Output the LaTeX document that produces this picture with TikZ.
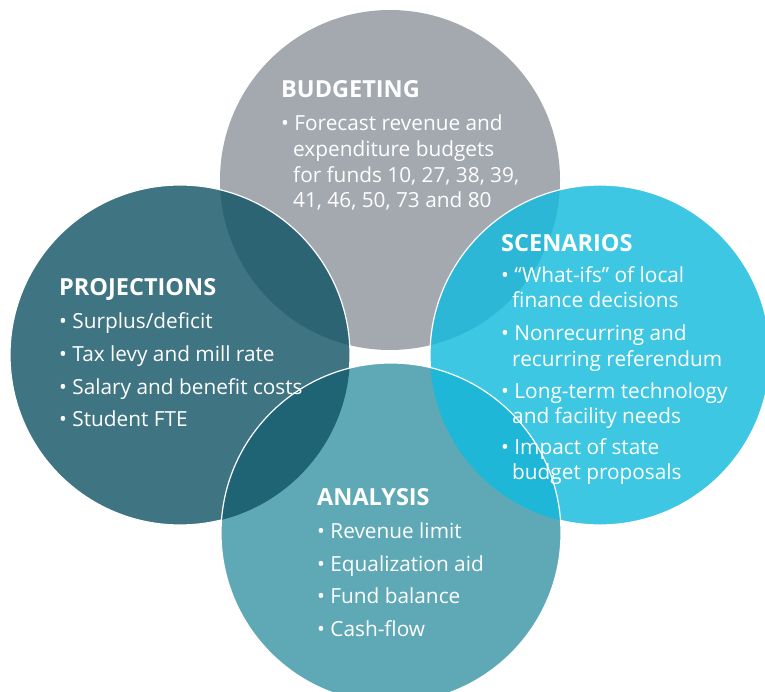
\documentclass[tikz,border=0pt]{standalone}
\usepackage{fontspec}
\setmainfont{Open Sans}
\definecolor{cbud}{HTML}{A4A9B0}
\definecolor{cproj}{HTML}{3F7482}
\definecolor{cprojbud}{HTML}{2D6474}
\definecolor{cscen}{HTML}{3EC7E3}
\definecolor{cscenbud}{HTML}{2BB7D5}
\definecolor{cana}{HTML}{5FA9B7}
\definecolor{canaproj}{HTML}{1F6475}
\definecolor{canascen}{HTML}{1FB7D7}
\tikzset{
  txt/.style={text=white, inner sep=0pt, anchor=base west, font=\fontsize{20.8}{24}\selectfont},
  ttl/.style={txt, font=\fontsize{23.5}{26}\selectfont\bfseries},
  rim/.style={draw=white, line width=1.2pt}
}
\begin{document}
\begin{tikzpicture}[x=1pt,y=-1pt]
\useasboundingbox (0,0) rectangle (765,692);
\coordinate (B) at (390,180);
\coordinate (P) at (180,355);
\coordinate (S) at (600,355);
\coordinate (A) at (391,533);
\def\R{170pt}
% budgeting
\fill[cbud] (B) circle[radius=\R];
% projections
\fill[cproj] (P) circle[radius=\R];
\begin{scope}
  \clip (P) circle[radius=\R];
  \fill[cprojbud] (B) circle[radius=\R];
\end{scope}
\draw[rim] (P) circle[radius=\R];
% scenarios
\fill[cscen] (S) circle[radius=\R];
\begin{scope}
  \clip (S) circle[radius=\R];
  \fill[cscenbud] (B) circle[radius=\R];
\end{scope}
\draw[rim] (S) circle[radius=\R];
% analysis
\fill[cana] (A) circle[radius=\R];
\begin{scope}
  \clip (A) circle[radius=\R];
  \fill[canaproj] (P) circle[radius=\R];
  \fill[canascen] (S) circle[radius=\R];
\end{scope}
\draw[rim] (A) circle[radius=\R];

% BUDGETING text
\node[ttl] (bt) at (281,98) {BUDGETING};
\node[txt] (b1) at (281,131) {• Forecast revenue and};
\node[txt] (b2) at (293,157) {expenditure budgets};
\node[txt] (b3) at (293,183) {for funds 10, 27, 38, 39,};
\node[txt] (b4) at (293,208) {41, 46, 50, 73 and 80};

% PROJECTIONS text
\node[ttl] (pt) at (59,296) {PROJECTIONS};
\node[txt] (p1) at (59,328) {• Surplus/deficit};
\node[txt] (p2) at (59,361) {• Tax levy and mill rate};
\node[txt] (p3) at (59,394) {• Salary and benefit costs};
\node[txt] (p4) at (59,426) {• Student FTE};

% SCENARIOS text
\node[ttl] (st) at (501,252) {SCENARIOS};
\node[txt] (s1) at (501,283) {• “What-ifs” of local};
\node[txt] (s2) at (512,308) {finance decisions};
\node[txt] (s3) at (501,340) {• Nonrecurring and};
\node[txt] (s4) at (512,366) {recurring referendum};
\node[txt] (s5) at (501,398) {• Long-term technology};
\node[txt] (s6) at (512,423) {and facility needs};
\node[txt] (s7) at (501,454) {• Impact of state};
\node[txt] (s8) at (512,479) {budget proposals};

% ANALYSIS text
\node[ttl] (at) at (317,505) {ANALYSIS};
\node[txt] (a1) at (317,538) {• Revenue limit};
\node[txt] (a2) at (317,571) {• Equalization aid};
\node[txt] (a3) at (317,603) {• Fund balance};
\node[txt] (a4) at (317,636) {• Cash-flow};
\end{tikzpicture}
\end{document}
